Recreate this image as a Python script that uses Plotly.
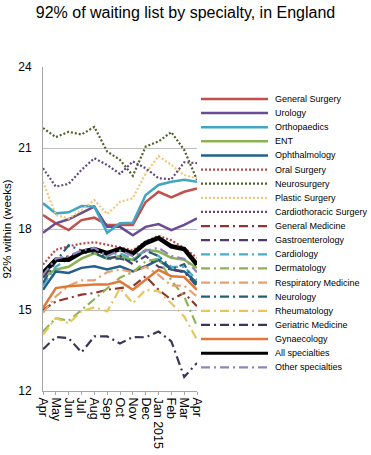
import plotly.graph_objects as go

months = ["Apr", "May", "Jun", "Jul", "Aug", "Sep", "Oct", "Nov", "Dec", "Jan 2015", "Feb", "Mar", "Apr"]

general_surgery = [18.52, 18.21, 17.96, 18.33, 18.42, 18.15, 18.15, 18.15, 19.0, 19.38, 19.17, 19.38, 19.5]
urology = [17.86, 18.21, 18.36, 18.58, 18.83, 18.08, 18.08, 17.77, 18.08, 18.18, 17.96, 18.15, 18.39]
orthopaedics = [18.95, 18.58, 18.62, 18.85, 18.83, 17.86, 18.21, 18.23, 19.26, 19.63, 19.75, 19.82, 19.75]
ent = [16.2, 16.5, 16.6, 16.9, 17.1, 16.9, 17.0, 16.85, 17.23, 17.17, 16.93, 16.86, 16.56]
ophthalmology = [15.75, 16.43, 16.37, 16.56, 16.62, 16.5, 16.62, 16.43, 16.62, 16.86, 16.5, 16.43, 16.0]
oral_surgery = [16.68, 17.23, 17.36, 17.46, 17.51, 17.42, 17.32, 17.21, 17.54, 17.75, 17.58, 17.3, 16.93]
neurosurgery = [21.74, 21.4, 21.6, 21.5, 21.78, 20.87, 20.56, 19.97, 21.05, 21.24, 21.59, 20.93, 19.82]
plastic_surgery = [19.75, 18.52, 18.39, 18.7, 19.07, 18.55, 19.0, 19.14, 20.06, 20.7, 20.37, 20.0, 19.88]
cardiothoracic = [20.25, 19.57, 19.67, 20.19, 20.62, 20.37, 20.04, 20.5, 20.25, 19.88, 19.84, 20.47, 20.44]
general_medicine = [15.0, 15.32, 15.44, 15.57, 15.63, 15.75, 15.81, 15.88, 16.25, 15.75, 15.38, 15.63, 15.14]
gastroenterology = [16.2, 16.8, 17.0, 17.1, 17.2, 16.9, 17.0, 16.7, 17.0, 16.6, 16.5, 16.4, 15.9]
cardiology = [15.9, 16.6, 16.9, 17.2, 17.3, 17.0, 17.1, 16.9, 17.2, 17.0, 16.6, 16.6, 16.1]
dermatology = [14.2, 14.7, 14.6, 15.0, 15.4, 15.8, 16.2, 16.4, 16.8, 16.9, 16.1, 15.5, 14.4]
respiratory_medicine = [14.9, 15.5, 15.9, 16.1, 16.1, 16.4, 16.5, 16.4, 16.6, 16.3, 15.9, 15.9, 15.5]
neurology = [16.0, 16.8, 17.4, 17.2, 17.1, 16.9, 16.9, 16.8, 17.2, 17.0, 16.5, 16.7, 15.8]
rheumatology = [14.08, 14.7, 14.5, 14.95, 15.1, 14.95, 15.8, 15.25, 15.75, 15.7, 15.25, 14.76, 13.9]
geriatric_medicine = [13.55, 14.0, 13.96, 13.43, 14.02, 14.02, 13.76, 14.0, 13.99, 14.2, 13.84, 12.52, 13.04]
gynaecology = [15.07, 15.81, 15.88, 15.91, 15.94, 15.94, 16.06, 15.75, 16.12, 16.49, 16.25, 16.22, 15.75]
all_specialties = [16.37, 16.86, 16.86, 17.14, 17.26, 17.11, 17.26, 17.09, 17.48, 17.67, 17.36, 17.26, 16.68]
other_specialties = [16.3, 16.9, 17.0, 17.2, 17.3, 17.0, 17.2, 17.0, 17.2, 17.3, 17.0, 16.9, 16.4]

DOT = "2px,2px"
DD = "9px,4px,2px,4px"
series = [
    ("General Surgery", general_surgery, "#C0504D", "solid", 2.5),
    ("Urology", urology, "#6A4C93", "solid", 2.5),
    ("Orthopaedics", orthopaedics, "#3FA7C4", "solid", 2.5),
    ("ENT", ent, "#8DB253", "solid", 2.5),
    ("Ophthalmology", ophthalmology, "#22618C", "solid", 2.5),
    ("Oral Surgery", oral_surgery, "#B94A48", DOT, 2.2),
    ("Neurosurgery", neurosurgery, "#4F6228", DOT, 2.2),
    ("Plastic Surgery", plastic_surgery, "#F2C878", DOT, 2.2),
    ("Cardiothoracic Surgery", cardiothoracic, "#5F4A80", DOT, 2.2),
    ("General Medicine", general_medicine, "#8E3532", DD, 2.2),
    ("Gastroenterology", gastroenterology, "#4E3B68", DD, 2.2),
    ("Cardiology", cardiology, "#4BACC6", DD, 2.2),
    ("Dermatology", dermatology, "#8DB253", DD, 2.2),
    ("Respiratory Medicine", respiratory_medicine, "#E8A070", DD, 2.2),
    ("Neurology", neurology, "#245F7A", DD, 2.2),
    ("Rheumatology", rheumatology, "#E6C65A", DD, 2.2),
    ("Geriatric Medicine", geriatric_medicine, "#3F3458", DD, 2.2),
    ("Gynaecology", gynaecology, "#E07838", "solid", 2.5),
    ("All specialties", all_specialties, "#000000", "solid", 4.5),
    ("Other specialties", other_specialties, "#8E86B8", DD, 2.2),
]

W, H = 371, 455
L, R, T, B = 43, 174, 67, 64
PW, PH = W - L - R, H - T - B

x = list(range(len(months)))
fig = go.Figure()
for name, vals, color, dash, w in series:
    fig.add_trace(go.Scatter(x=x, y=vals, name=name, mode="lines",
                             line=dict(color=color, dash=dash, width=w),
                             showlegend=False))

# Manual legend (compact spacing like the original)
leg_top, leg_step = 99, 14.12
x0p, x1p, xtp = 201, 268, 273
for i, (name, vals, color, dash, w) in enumerate(series):
    ypx = leg_top + i * leg_step
    yp = (H - B - ypx) / PH
    fig.add_shape(type="line", xref="paper", yref="paper",
                  x0=(x0p - L) / PW, x1=(x1p - L) / PW, y0=yp, y1=yp,
                  line=dict(color=color, dash=dash, width=min(w, 3)))
    fig.add_annotation(xref="paper", yref="paper", x=(xtp - L) / PW, y=yp,
                       xanchor="left", yanchor="middle", text=name,
                       showarrow=False, font=dict(size=9, color="#000000"))

fig.update_layout(
    width=W, height=H,
    margin=dict(l=L, r=R, t=T, b=B, autoexpand=False),
    paper_bgcolor="white", plot_bgcolor="white",
    font=dict(family="Liberation Sans, Arial, sans-serif", color="#000000"),
    title=dict(text="92% of waiting list by specialty, in England",
               x=0.5, xanchor="center", y=0.985, yanchor="top",
               font=dict(size=16)),
    showlegend=False,
)
fig.update_xaxes(range=[0, 12], tickvals=x, ticktext=months, tickangle=90,
                 showgrid=False, showline=True, linecolor="#A6A6A6",
                 ticks="outside", ticklen=3, tickcolor="#A6A6A6",
                 tickfont=dict(size=12.5), zeroline=False, automargin=False)
fig.update_yaxes(range=[12, 24], dtick=3, showgrid=True, gridcolor="#BFBFBF",
                 showline=True, linecolor="#A6A6A6", ticks="", zeroline=False,
                 tickfont=dict(size=12), ticklabelstandoff=8, automargin=False,
                 title=dict(text="92% within (weeks)", font=dict(size=11.5), standoff=4))

fig.write_html("out.html",
               config={"displayModeBar": False},
               post_script="document.body.style.margin='0px';"
                           "document.body.style.overflow='hidden';")
